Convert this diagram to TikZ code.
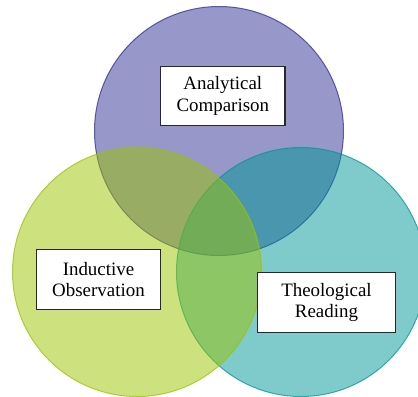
\documentclass[tikz,border=0pt]{standalone}
\usepackage{fontspec}
\setmainfont{Liberation Serif}
\newfontfamily\tnr{Liberation Serif}
\definecolor{cpurple}{RGB}{47,47,147}
\definecolor{cteal}{RGB}{0,149,151}
\definecolor{cgreen}{RGB}{155,195,0}
\definecolor{boxline}{RGB}{40,40,40}
\tikzset{
  venn/.style={circle, minimum size=249bp, inner sep=0pt, fill opacity=0.5, draw opacity=0.75, line width=1bp},
  label box/.style={draw=boxline, fill=white, line width=1.1bp, inner sep=0pt, align=center,
    minimum height=59.6bp, font=\tnr\fontsize{19}{21.5}\selectfont, text=black}
}
\begin{document}
\begin{tikzpicture}[x=1bp,y=-1bp]
\useasboundingbox (0,0) rectangle (418,397);
\node[venn, fill=cpurple, draw=cpurple] (purple) at (219,131) {};
\node[venn, fill=cteal, draw=cteal] (teal) at (301,272) {};
\node[venn, fill=cgreen, draw=cgreen] (green) at (137,272) {};
\node[label box, minimum width=124.3bp] (ac) at (222.8,95.9) {Analytical\\Comparison};
\node[label box, minimum width=124.4bp] (io) at (98.5,279.5) {Inductive\\Observation};
\node[label box, minimum width=138.4bp] (tr) at (326.5,302.5) {Theological\\Reading};
\end{tikzpicture}
\end{document}
